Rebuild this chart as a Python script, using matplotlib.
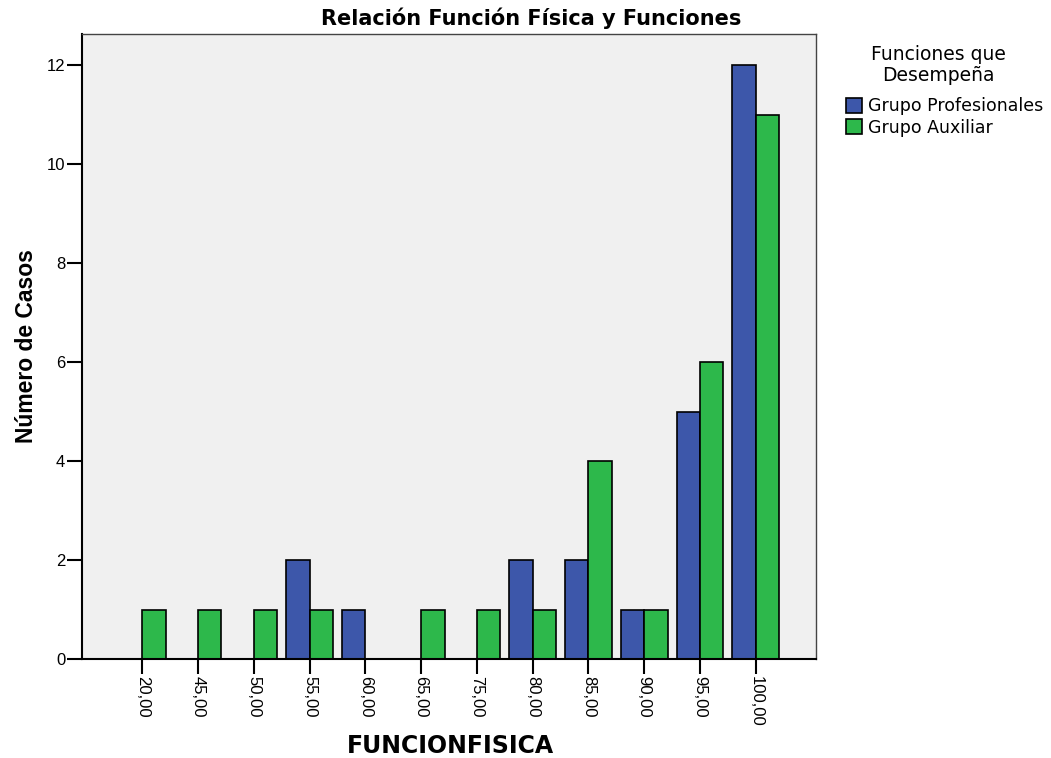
import matplotlib
matplotlib.use("Agg")
import matplotlib.pyplot as plt
import numpy as np
from matplotlib.patches import Patch

plt.rcParams['font.family'] = ['Liberation Sans', 'DejaVu Sans']

categories = ["20,00", "45,00", "50,00", "55,00", "60,00", "65,00",
              "75,00", "80,00", "85,00", "90,00", "95,00", "100,00"]
profesionales = [0, 0, 0, 2, 1, 0, 0, 2, 2, 1, 5, 12]
auxiliar = [1, 1, 1, 1, 0, 1, 1, 1, 4, 1, 6, 11]
series_names = ["Grupo Profesionales", "Grupo Auxiliar"]
colors = ["#3D57AA", "#2DB84B"]

W, H = 1051, 758
fig = plt.figure(figsize=(W/100, H/100), dpi=100)
ax = fig.add_axes([82/W, 1 - 659/H, (816-82)/W, (659-34)/H])
ax.set_facecolor("#F0F0F0")

x = np.arange(len(categories))
w = 0.42
for vals, off, c in [(profesionales, -w/2, colors[0]), (auxiliar, w/2, colors[1])]:
    xs = [xi + off for xi, v in zip(x, vals) if v > 0]
    hs = [v for v in vals if v > 0]
    ax.bar(xs, hs, width=w, color=c, edgecolor="black", linewidth=1.2, zorder=2)

ax.set_xlim(-1.08, len(categories) - 1 + 1.08)
ax.set_ylim(0, 12.63)
ax.set_xticks(x)
ax.set_xticklabels(categories, rotation=270, fontsize=12)
ax.set_yticks([0, 2, 4, 6, 8, 10, 12])
ax.set_yticklabels(["0", "2", "4", "6", "8", "10", "12"], fontsize=12)
ax.tick_params(axis='both', direction='out', length=11, width=1.5, color='black', pad=1)

for side in ["left", "bottom"]:
    ax.spines[side].set_color("black")
    ax.spines[side].set_linewidth(1.5)
for side in ["top", "right"]:
    ax.spines[side].set_color("#444444")
    ax.spines[side].set_linewidth(1.0)

fig.text(531/W, 1 - 18/H, "Relación Función Física y Funciones",
         fontsize=15, fontweight="bold", family="DejaVu Sans",
         ha="center", va="center")
ax.set_xlabel("FUNCIONFISICA", fontsize=17, fontweight="bold", family="DejaVu Sans")
ax.xaxis.set_label_coords((450-82)/734, (659-734)/625)
ax.set_ylabel("Número de Casos", fontsize=16.5, fontweight="bold")
ax.yaxis.set_label_coords((38-82)/734, 0.5)

fig.text(938/W, 1 - 65/H, "Funciones que\nDesempeña", family="DejaVu Sans",
         fontsize=13.5, ha="center", va="center", multialignment="center",
         linespacing=1.15)

handles = [Patch(facecolor=c, edgecolor="black", linewidth=1.2) for c in colors]
leg = fig.legend(handles, series_names,
                 loc="upper left", bbox_to_anchor=(846/W, 1 - 97/H),
                 frameon=False, prop={"family": "DejaVu Sans", "size": 12.5},
                 handlelength=0.95, handleheight=0.95, handletextpad=0.3,
                 labelspacing=0.22, borderaxespad=0, borderpad=0)

fig.savefig("out.png", dpi=100)
